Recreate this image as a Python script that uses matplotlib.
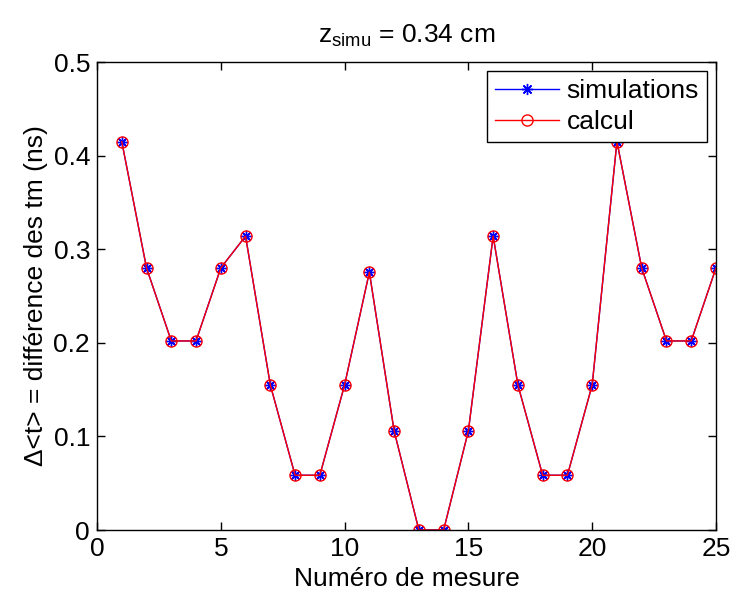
import matplotlib
matplotlib.use('Agg')
import matplotlib.pyplot as plt

mesure = list(range(1, 26))
simulations = [0.415, 0.280, 0.202, 0.202, 0.280, 0.314, 0.155, 0.0585, 0.0585, 0.155,
               0.2755, 0.106, 0.0, 0.0, 0.106, 0.314, 0.155, 0.0585, 0.0585, 0.155,
               0.415, 0.280, 0.202, 0.202, 0.280]
calcul = list(simulations)
xticks = [0, 5, 10, 15, 20, 25]
yticks = [0, 0.1, 0.2, 0.3, 0.4, 0.5]
yticklabels = ['0', '0.1', '0.2', '0.3', '0.4', '0.5']

plt.rcParams['font.family'] = ['Liberation Sans', 'DejaVu Sans']
plt.rcParams['mathtext.fontset'] = 'custom'
plt.rcParams['mathtext.rm'] = 'Liberation Sans'

fig = plt.figure(figsize=(7.36, 5.98), dpi=100)
ax = fig.add_axes([0.1318, 0.1137, 0.841, 0.7826])

ax.plot(mesure, simulations, color='blue', marker=(8, 2, 0), markersize=8, mew=1,
        lw=1, label='simulations')
ax.plot(mesure, calcul, color='red', marker='o', markersize=8, mfc='none', mew=1,
        lw=1, label='calcul')

ax.set_xlim(0, 25)
ax.set_ylim(0, 0.5)
ax.set_xticks(xticks)
ax.set_yticks(yticks)
ax.set_yticklabels(yticklabels)
ax.tick_params(direction='in', top=True, right=True, labelsize=19, length=6,
               width=1, pad=5)
for s in ax.spines.values():
    s.set_linewidth(1.0)

ax.set_xlabel('Numéro de mesure', fontsize=19, labelpad=4)
ax.set_ylabel('Δ<t> = différence des tm (ns)', fontsize=19, labelpad=4)
ax.set_title(r'$\mathregular{z_{simu}}$ = 0.34 cm', fontsize=19, pad=14)

leg = ax.legend(loc='upper right', fontsize=19, fancybox=False, framealpha=1,
                edgecolor='black', handlelength=2.4, borderpad=0.3, labelspacing=0.25,
                handletextpad=0.3, borderaxespad=0.35)
leg.get_frame().set_linewidth(1.0)

fig.savefig('out.png', dpi=100)
